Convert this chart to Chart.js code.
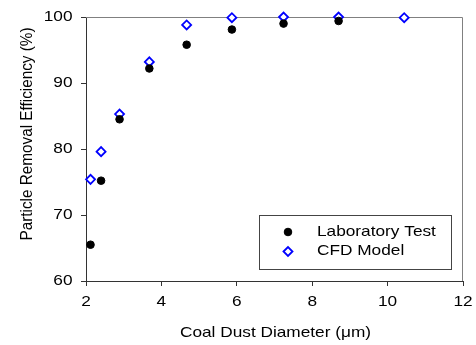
<!DOCTYPE html>
<html>
<head>
<meta charset="utf-8">
<script src="https://cdn.jsdelivr.net/npm/chart.js@4/dist/chart.umd.min.js"></script>
<style>
html,body{margin:0;padding:0;background:#fff;}
#wrap{width:476px;height:345px;}
</style>
</head>
<body>
<div id="wrap"><canvas id="c" width="476" height="345"></canvas></div>
<script>
const labX = [2.12, 2.40, 2.89, 3.68, 4.67, 5.87, 7.24, 8.70];
const labY = [65.5, 75.2, 84.5, 92.2, 95.8, 98.1, 99.0, 99.4];
const cfdX = [2.12, 2.40, 2.89, 3.68, 4.67, 5.87, 7.24, 8.70, 10.44];
const cfdY = [75.4, 79.6, 85.3, 93.2, 98.8, 99.9, 100.0, 100.0, 99.9];
const xTicks = [2, 4, 6, 8, 10, 12];
const yTicks = [60, 70, 80, 90, 100];
const seriesNames = ['Laboratory Test', 'CFD Model'];
const xTitle = 'Coal Dust Diameter (\u03bcm)';
const yTitle = 'Particle Removal Efficiency (%)';

const FONT = '"Liberation Sans", Arial, sans-serif';
const SX = 1.15;

function txt(ctx, s, x, y, align) {
  ctx.save();
  ctx.translate(x, y);
  ctx.scale(SX, 1);
  ctx.textAlign = align;
  ctx.fillText(s, 0, 0);
  ctx.restore();
}

const framePlugin = {
  id: 'frame',
  beforeDatasetsDraw(chart) {
    const {ctx, chartArea: a} = chart;
    ctx.save();
    ctx.strokeStyle = '#808080';
    ctx.lineWidth = 1;
    ctx.beginPath();
    ctx.moveTo(a.left, a.top + 0.5);
    ctx.lineTo(a.right - 0.5, a.top + 0.5);
    ctx.lineTo(a.right - 0.5, a.bottom);
    ctx.stroke();
    ctx.restore();
  },
  afterDraw(chart) {
    const {ctx} = chart;
    const xs = chart.scales.x, ys = chart.scales.y;
    ctx.save();
    ctx.font = '15px ' + FONT;
    ctx.fillStyle = '#000';
    ctx.textBaseline = 'middle';
    yTicks.forEach(v => txt(ctx, String(v), 72.5, ys.getPixelForValue(v), 'right'));
    xTicks.forEach(v => txt(ctx, String(v), xs.getPixelForValue(v), 302, 'center'));
    txt(ctx, xTitle, (xs.left + xs.right) / 2 + 1, 333, 'center');
    // y title
    ctx.save();
    ctx.translate(27, 134);
    ctx.rotate(-Math.PI / 2);
    ctx.scale(1.02, SX);
    ctx.textAlign = 'center';
    ctx.fillText(yTitle, 0, 0);
    ctx.restore();

    // legend box
    const bx = 259.5, by = 215.5, bw = 192, bh = 54;
    ctx.fillStyle = '#fff';
    ctx.fillRect(bx, by, bw, bh);
    ctx.strokeStyle = '#444';
    ctx.lineWidth = 1;
    ctx.strokeRect(bx, by, bw, bh);
    const rows = [232, 251.5];
    chart.data.datasets.forEach((ds, i) => {
      const mx = 288, my = rows[i];
      ctx.fillStyle = ds.backgroundColor;
      ctx.strokeStyle = ds.borderColor;
      ctx.lineWidth = ds.borderWidth;
      ctx.beginPath();
      if (ds.pointStyle === 'circle') {
        ctx.arc(mx, my, ds.pointRadius, 0, Math.PI * 2);
      } else {
        const r = ds.pointRadius;
        ctx.moveTo(mx - r, my);
        ctx.lineTo(mx, my - r);
        ctx.lineTo(mx + r, my);
        ctx.lineTo(mx, my + r);
        ctx.closePath();
      }
      ctx.fill();
      ctx.stroke();
      ctx.fillStyle = '#000';
      txt(ctx, seriesNames[i], 317, my - 0.5, 'left');
    });
    ctx.restore();
  }
};

new Chart(document.getElementById('c'), {
  type: 'scatter',
  data: {
    datasets: [
      {
        label: seriesNames[0],
        data: labX.map((x, i) => ({x, y: labY[i]})),
        pointStyle: 'circle',
        pointRadius: 3.8,
        backgroundColor: '#000',
        borderColor: '#000',
        borderWidth: 1,
        clip: false
      },
      {
        label: seriesNames[1],
        data: cfdX.map((x, i) => ({x, y: cfdY[i]})),
        pointStyle: 'rectRot',
        pointRadius: 4.5,
        backgroundColor: '#fff',
        borderColor: '#0000ff',
        borderWidth: 1.8,
        clip: false
      }
    ]
  },
  options: {
    responsive: false,
    animation: false,
    devicePixelRatio: 1,
    layout: {padding: {left: 0, right: 13, top: 17, bottom: 0}},
    plugins: {legend: {display: false}, tooltip: {enabled: false}},
    scales: {
      x: {
        type: 'linear',
        min: 2, max: 12,
        afterBuildTicks: (s) => { s.ticks = xTicks.map(v => ({value: v})); },
        afterFit: (s) => { s.height = 64; },
        grid: {drawOnChartArea: false, tickLength: 5, color: '#333', tickColor: '#333'},
        border: {color: '#333', width: 1},
        ticks: {display: false}
      },
      y: {
        type: 'linear',
        min: 60, max: 100,
        afterBuildTicks: (s) => { s.ticks = yTicks.map(v => ({value: v})); },
        afterFit: (s) => { s.width = 86; },
        grid: {drawOnChartArea: false, tickLength: 5, color: '#333', tickColor: '#333'},
        border: {color: '#333', width: 1},
        ticks: {display: false}
      }
    }
  },
  plugins: [framePlugin]
});
</script>
</body>
</html>
